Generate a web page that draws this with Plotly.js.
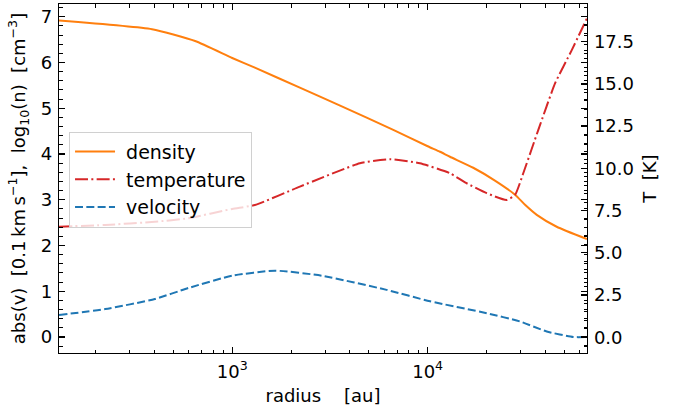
<!DOCTYPE html>
<html><head><meta charset="utf-8">
<script src="https://cdn.plot.ly/plotly-3.0.1.min.js"></script>
<style>html,body{margin:0;padding:0;background:#fff}</style>
</head><body><div id="chart" style="width:676px;height:407px"></div>
<script>
// radius [au]
const densityR = [130, 389, 646, 1000, 1306, 2218, 3565, 6668, 10000, 11560, 13000, 17100, 22080, 27990, 31480, 36140, 45710, 65310];
const densityV = [6.92, 6.73, 6.47, 6.10, 5.89, 5.45, 5.06, 4.53, 4.17, 4.05, 3.94, 3.70, 3.42, 3.11, 2.89, 2.67, 2.41, 2.14];

const tempR = [130, 224, 402, 596, 1000, 1306, 2218, 4498, 6412, 9120, 13000, 15520, 20050, 25350, 27990, 30830, 36810, 44870, 54580, 65310];
const tempV = [6.55, 6.65, 6.84, 7.05, 7.6, 7.83, 8.92, 10.30, 10.54, 10.30, 9.71, 9.17, 8.53, 8.13, 8.43, 9.71, 12.28, 15.04, 17.0, 18.89];

const velR = [130, 224, 402, 596, 1000, 1656, 2871, 6166, 10280, 20050, 29650, 40640, 55590, 65310];
const velV = [0.48, 0.61, 0.83, 1.07, 1.34, 1.45, 1.34, 1.03, 0.78, 0.52, 0.34, 0.12, 0.0, 0.0];

const seriesNames = ['density', 'temperature', 'velocity'];

const xMajorTicks = [1000, 10000];
const xMajorLabels = ['10<sup>3</sup>', '10<sup>4</sup>'];

const xMinorTicks = [];
for (let d = 100; d <= 10000; d *= 10) {
  for (let m = 2; m <= 9; m++) xMinorTicks.push(m * d);
}

const FONT = 'DejaVu Sans, Liberation Sans, sans-serif';
const pad = '\u00a0';
const traces = [
  {x: densityR, y: densityV, name: pad + seriesNames[0], type: 'scatter', mode: 'lines', yaxis: 'y',
   line: {color: '#ff7f0e', width: 2, shape: 'spline', smoothing: 0.5}},
  {x: tempR, y: tempV, name: pad + seriesNames[1], type: 'scatter', mode: 'lines', yaxis: 'y2',
   line: {color: '#d62728', width: 2, dash: '13px,3.3px,2px,3.3px', shape: 'spline', smoothing: 0.5}},
  {x: velR, y: velV, name: pad + seriesNames[2], type: 'scatter', mode: 'lines', yaxis: 'y',
   line: {color: '#1f77b4', width: 2, dash: '8px,3.3px', shape: 'spline', smoothing: 0.5}}
];

const axCommon = {
  showline: true, linecolor: '#000', linewidth: 1.3,
  ticks: 'inside', ticklen: 6, tickwidth: 1.3, tickcolor: '#000',
  showgrid: false, zeroline: false,
  tickfont: {family: FONT, size: 18, color: '#000'}
};

const layout = {
  width: 676, height: 407,
  margin: {l: 59, r: 89, t: 4, b: 54},
  paper_bgcolor: '#fff', plot_bgcolor: '#fff',
  font: {family: FONT, size: 18, color: '#000'},
  showlegend: true,
  legend: {x: 0.019, y: 0.634, xanchor: 'left', yanchor: 'top', itemwidth: 40,
    bgcolor: 'rgba(255,255,255,0.8)', bordercolor: '#d0d0d0', borderwidth: 1,
    font: {family: FONT, size: 19, color: '#000'}},
  xaxis: Object.assign({}, axCommon, {
    type: 'log', range: [Math.log10(130), 4.815], mirror: 'ticks',
    tickmode: 'array', tickvals: xMajorTicks, ticktext: xMajorLabels,
    ticklabelstandoff: 2,
    minor: {tickmode: 'array', tickvals: xMinorTicks, ticks: 'inside', ticklen: 3.5, tickwidth: 1, tickcolor: '#000'},
    title: {text: 'radius \u00a0\u00a0 [au]', font: {family: FONT, size: 18}, standoff: 8}
  }),
  yaxis: Object.assign({}, axCommon, {
    range: [-0.35, 7.28], dtick: 1, mirror: 'ticks', ticklabelstandoff: 2,
    minor: {dtick: 0.2, ticks: 'inside', ticklen: 3.5, tickwidth: 1, tickcolor: '#000'},
    title: {text: 'abs(v)\u00a0\u00a0[0.1\u2009km\u2009s<sup>\u22121</sup>],\u00a0\u00a0log<sub>10</sub>(n)\u00a0\u00a0[cm<sup>\u22123</sup>]',
      font: {family: FONT, size: 18}, standoff: 10}
  }),
  yaxis2: Object.assign({}, axCommon, {
    overlaying: 'y', side: 'right', range: [-0.93, 19.73], dtick: 2.5, tickformat: '.1f',
    ticklabelstandoff: 2,
    minor: {dtick: 0.5, ticks: 'inside', ticklen: 3.5, tickwidth: 1, tickcolor: '#000'},
    title: {text: 'T\u00a0\u00a0[K]', font: {family: FONT, size: 18}, standoff: 10}
  })
};

Plotly.newPlot('chart', traces, layout, {displayModeBar: false, staticPlot: true});
</script>
</body></html>
